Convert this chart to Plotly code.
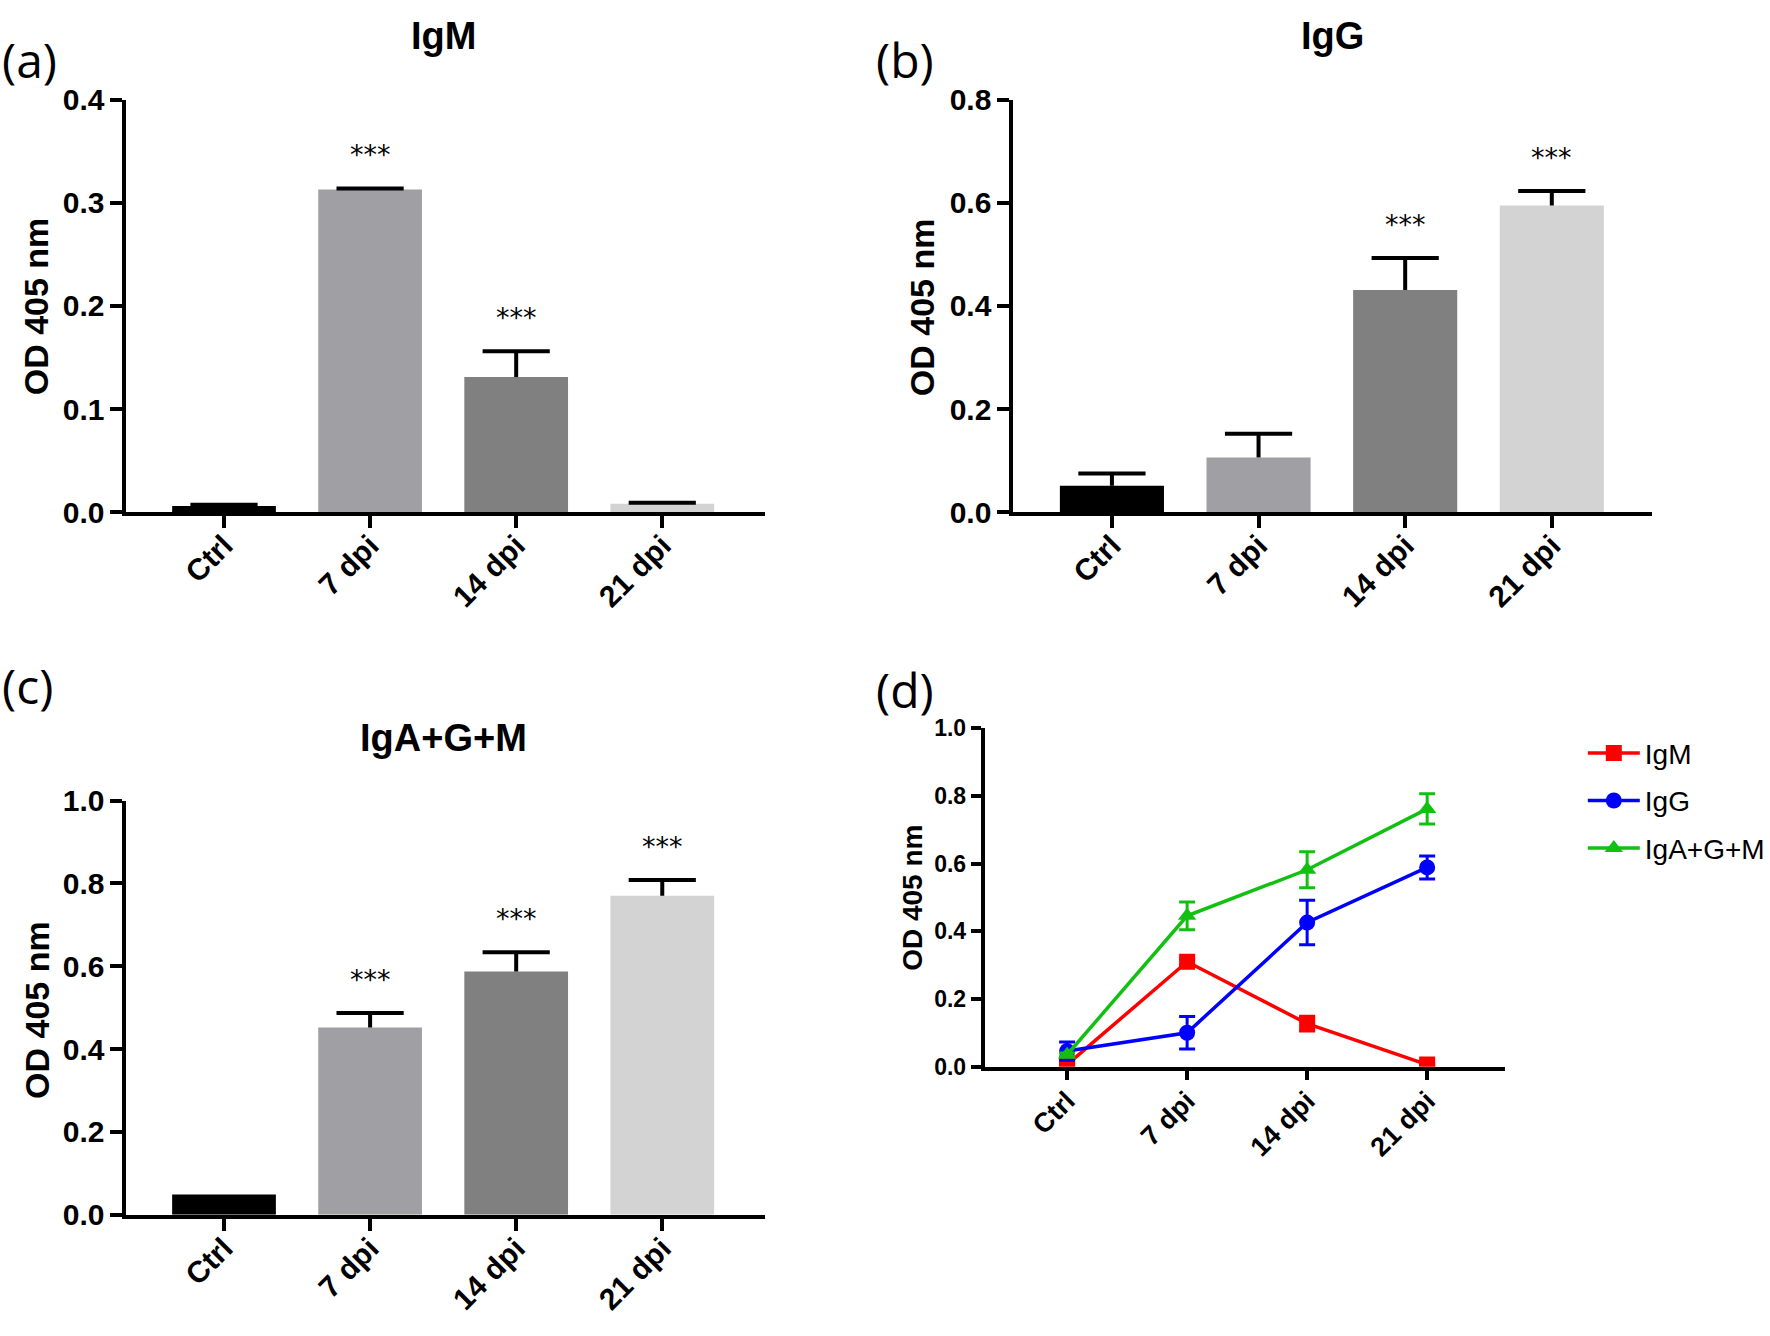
import plotly.graph_objects as go

# ---------------- data ----------------
categories = ["Ctrl", "7 dpi", "14 dpi", "21 dpi"]

igm_mean = [0.006, 0.313, 0.131, 0.008]
igm_err = [0.001, 0.001, 0.025, 0.001]

igg_mean = [0.051, 0.106, 0.431, 0.595]
igg_err = [0.024, 0.046, 0.062, 0.028]

igagm_mean = [0.049, 0.452, 0.587, 0.770]
igagm_err = [0.0, 0.035, 0.047, 0.038]

# line panel (d) values
d_igm_mean = [0.006, 0.310, 0.127, 0.006]
d_igm_err = [0.004, 0.008, 0.022, 0.003]
d_igg_mean = [0.046, 0.100, 0.426, 0.589]
d_igg_err = [0.027, 0.048, 0.066, 0.034]
d_igagm_mean = [0.035, 0.446, 0.582, 0.762]
d_igagm_err = [0.005, 0.041, 0.053, 0.045]

bar_colors = ["#000000", "#a0a0a4", "#808080", "#d3d3d3"]
signif_igm = ["", "***", "***", ""]
signif_igg = ["", "", "***", "***"]
signif_igagm = ["", "***", "***", "***"]

yticks_a = [0.0, 0.1, 0.2, 0.3, 0.4]
yticks_b = [0.0, 0.2, 0.4, 0.6, 0.8]
yticks_c = [0.0, 0.2, 0.4, 0.6, 0.8, 1.0]
yticks_d = [0.0, 0.2, 0.4, 0.6, 0.8, 1.0]

W, H = 1770, 1336
BOLD = "Liberation Sans, Arial, sans-serif"
LABEL_FONT = "Open Sans, Noto Sans, sans-serif"


def px_x(x):
    return x / W


def px_y(y):
    return 1 - y / H


fig = go.Figure()

panels = [
    (igm_mean, igm_err, signif_igm, ""),
    (igg_mean, igg_err, signif_igg, "2"),
    (igagm_mean, igagm_err, signif_igagm, "3"),
]

annotations = []
for mean, err, sig, sfx in panels:
    # bar + upward error stem (no caps)
    fig.add_trace(go.Bar(
        x=categories, y=mean,
        marker=dict(color=bar_colors, line=dict(width=0)),
        width=0.71,
        error_y=dict(type="data", array=err, arrayminus=[0] * len(err),
                     symmetric=False, color="black", thickness=4, width=0),
        xaxis="x" + sfx, yaxis="y" + sfx, showlegend=False,
        hoverinfo="x+y",
    ))
    # error caps (top only)
    cap_x = [c for c, e in zip(categories, err) if e > 0]
    cap_y = [m + e for m, e in zip(mean, err) if e > 0]
    fig.add_trace(go.Scatter(
        x=cap_x, y=cap_y, mode="markers",
        marker=dict(symbol="line-ew", size=48, color="black",
                    line=dict(width=4, color="black")),
        xaxis="x" + sfx, yaxis="y" + sfx, showlegend=False, hoverinfo="skip",
    ))
    for c, m, e, s in zip(categories, mean, err, sig):
        if s:
            annotations.append(dict(
                x=c, y=m + e, xref="x" + sfx, yref="y" + sfx,
                text=s, showarrow=False, yanchor="middle", yshift=34,
                font=dict(family="DejaVu Sans, sans-serif", size=27, color="black"),
            ))

line_series = [
    ("IgM", d_igm_mean, d_igm_err, "#ff0000", "square"),
    ("IgG", d_igg_mean, d_igg_err, "#0000ff", "circle"),
    ("IgA+G+M", d_igagm_mean, d_igagm_err, "#12c012", "triangle-up"),
]
for name, mean, err, col, sym in line_series:
    fig.add_trace(go.Scatter(
        x=categories, y=mean, name=name, mode="lines+markers",
        line=dict(color=col, width=3.5),
        marker=dict(symbol=sym, size=16, color=col),
        error_y=dict(type="data", array=err, color=col, thickness=3, width=8),
        xaxis="x4", yaxis="y4", legendgroup=name,
    ))

# ---------------- axes ----------------
def xaxis(domain, rng, anchor, fsize, lw, tl, standoff):
    return dict(
        domain=domain, range=rng, anchor=anchor, type="category",
        showline=True, linewidth=lw, linecolor="black", mirror=False,
        ticks="outside", ticklen=tl, tickwidth=lw, tickcolor="black",
        tickangle=-45, showgrid=False, zeroline=False,
        ticklabelstandoff=standoff,
        tickfont=dict(family=BOLD, size=fsize, color="black", weight="bold"),
    )


def yaxis(domain, rng, anchor, tv, fsize, lw, tl):
    return dict(
        domain=domain, range=rng, anchor=anchor,
        showline=True, linewidth=lw, linecolor="black",
        ticks="outside", ticklen=tl, tickwidth=lw, tickcolor="black",
        tickvals=tv, ticktext=["%.1f" % v for v in tv],
        showgrid=False, zeroline=False,
        tickfont=dict(family=BOLD, size=fsize, color="black", weight="bold"),
    )


dom_x_left = [px_x(127), px_x(768)]
dom_x_b = [px_x(1018), px_x(1659)]
dom_x_d = [px_x(989), px_x(1512)]
dom_y_top = [px_y(508), px_y(85)]
dom_y_c = [px_y(1229), px_y(804)]
dom_y_d = [px_y(1077), px_y(730)]

fig.update_layout(
    xaxis=xaxis(dom_x_left, [-0.668, 3.70], "y", 30, 4, 12, -12),
    yaxis=yaxis(dom_y_top, [0, 0.4], "x", yticks_a, 30, 4, 12),
    xaxis2=xaxis(dom_x_b, [-0.672, 3.68], "y2", 30, 4, 12, -12),
    yaxis2=yaxis(dom_y_top, [0, 0.8], "x2", yticks_b, 30, 4, 12),
    xaxis3=xaxis(dom_x_left, [-0.668, 3.70], "y3", 30, 4, 12, -12),
    yaxis3=yaxis(dom_y_c, [0, 1.0], "x3", yticks_c, 30, 4, 12),
    xaxis4=xaxis(dom_x_d, [-0.688, 3.65], "y4", 27, 3.5, 10, -6),
    yaxis4=yaxis(dom_y_d, [0, 1.0], "x4", yticks_d, 23, 3.5, 10),
)

# ---------------- text ----------------
def txt(x, y, s, size, family, bold=False, angle=0, xanchor="center"):
    return dict(
        x=px_x(x), y=px_y(y), xref="paper", yref="paper", text=s,
        showarrow=False, xanchor=xanchor, yanchor="middle", textangle=angle,
        font=dict(family=family, size=size, color="black",
                  weight="bold" if bold else "normal"),
    )


annotations += [
    txt(446, 19, "IgM", 38, BOLD, True),
    txt(1339, 19, "IgG", 38, BOLD, True),
    txt(446, 740, "IgA+G+M", 38, BOLD, True),
    txt(0, 44, "(a)", 48, LABEL_FONT, xanchor="left"),
    txt(878, 44, "(b)", 48, LABEL_FONT, xanchor="left"),
    txt(0, 686, "(c)", 48, LABEL_FONT, xanchor="left"),
    txt(878, 690, "(d)", 48, LABEL_FONT, xanchor="left"),
    txt(37, 297, "OD 405 nm", 34, BOLD, True, -90),
    txt(927, 298, "OD 405 nm", 34, BOLD, True, -90),
    txt(37, 1019, "OD 405 nm", 34, BOLD, True, -90),
    txt(917, 904, "OD 405 nm", 28, BOLD, True, -90),
]

fig.update_layout(
    width=W, height=H,
    margin=dict(l=0, r=0, t=0, b=0),
    paper_bgcolor="white", plot_bgcolor="white",
    annotations=annotations,
    legend=dict(
        x=px_x(1590), y=px_y(730), xanchor="left", yanchor="top",
        font=dict(family=BOLD, size=28, color="black"),
        tracegroupgap=8, itemwidth=52, bgcolor="rgba(0,0,0,0)",
    ),
)

fig.write_html("out.html", config={"displayModeBar": False},
               post_script="document.body.style.margin='0';")
